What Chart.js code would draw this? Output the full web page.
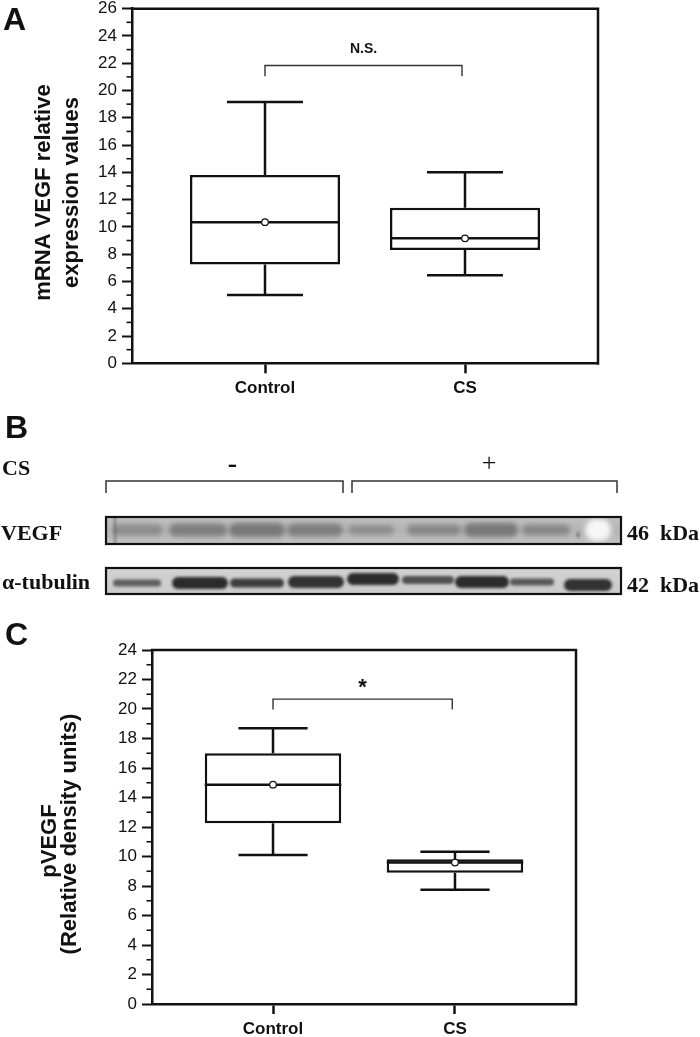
<!DOCTYPE html>
<html><head><meta charset="utf-8">
<script src="https://cdn.jsdelivr.net/npm/chart.js@4.4.1/dist/chart.umd.min.js"></script>
<style>
html,body{margin:0;padding:0;background:#fff;width:700px;height:1037px;overflow:hidden}
canvas{position:absolute;left:0}
#cA{top:0}
#cB{top:405px}
#cC{top:605px}
</style></head><body>
<canvas id="cA" width="700" height="405"></canvas>
<canvas id="cB" width="700" height="200"></canvas>
<canvas id="cC" width="700" height="432"></canvas>
<script>
// ---------- data ----------
const categories = ['Control', 'CS'];

// Panel A: mRNA VEGF relative expression values
const mrnaMin    = [5.0, 6.45];
const mrnaQ1     = [7.25, 8.3];
const mrnaMedian = [10.35, 9.16];
const mrnaQ3     = [13.8, 11.4];
const mrnaMax    = [19.15, 14.0];
const mrnaMean   = [10.35, 9.16];
const mrnaTicks  = [0, 2, 4, 6, 8, 10, 12, 14, 16, 18, 20, 22, 24, 26];
const mrnaBracketX = [1, 1.985];
const mrnaBracketY = [21.05, 21.83];
const mrnaSig = 'N.S.';

// Panel C: pVEGF relative density units
const pvegfMin    = [10.1, 7.75];
const pvegfQ1     = [12.25, 8.9];
const pvegfMedian = [14.87, 9.59];
const pvegfQ3     = [17.0, 9.82];
const pvegfMax    = [18.7, 10.33];
const pvegfMean   = [14.87, 9.59];
const pvegfTicks  = [0, 2, 4, 6, 8, 10, 12, 14, 16, 18, 20, 22, 24];
const pvegfBracketX = [1, 1.985];
const pvegfBracketY = [19.97, 20.67];
const pvegfSig = '*';

// ---------- style ----------
const SANS = '"Liberation Sans", Arial, sans-serif';
const SERIF = '"Liberation Serif", "Times New Roman", serif';
const INK = '#111';
Chart.defaults.font.family = SANS;
Chart.defaults.color = INK;

const decorPlugin = {
  id: 'decor',
  afterDraw(chart, args, o) {
    const {ctx, chartArea: a, scales: {x, y}} = chart;
    ctx.save();
    // top & right frame
    ctx.strokeStyle = INK; ctx.lineWidth = 2.5; ctx.lineCap = 'square';
    ctx.beginPath(); ctx.moveTo(a.left, a.top); ctx.lineTo(a.right, a.top); ctx.lineTo(a.right, a.bottom); ctx.stroke();
    // minor ticks
    ctx.lineWidth = 1.6; ctx.lineCap = 'butt';
    for (let v = y.min + 1; v < y.max; v += 2) {
      const py = y.getPixelForValue(v);
      ctx.beginPath(); ctx.moveTo(a.left - 5.5, py); ctx.lineTo(a.left, py); ctx.stroke();
    }
    // significance label
    const sx = (x.getPixelForValue(o.bx[0]) + x.getPixelForValue(o.bx[1])) / 2;
    const sy = y.getPixelForValue(o.by[1]) - o.sigGap;
    ctx.fillStyle = INK;
    ctx.font = o.sigFont;
    ctx.textAlign = 'center';
    const m = ctx.measureText(o.sig);
    const base = sy + (m.actualBoundingBoxAscent - m.actualBoundingBoxDescent) / 2;
    ctx.fillText(o.sig, sx, base);
    // y title
    ctx.font = 'bold 22px ' + SANS;
    o.title.forEach((t, i) => {
      ctx.save();
      ctx.translate(o.titleX[i], o.titleY[i]);
      ctx.rotate(-Math.PI / 2);
      ctx.textAlign = 'center'; ctx.textBaseline = 'alphabetic';
      ctx.fillText(t, 0, 0);
      ctx.restore();
    });
    // panel letter
    ctx.font = 'bold 32px ' + SANS; ctx.textAlign = 'left';
    ctx.fillText(o.letter, o.letterX, o.letterY);
    ctx.restore();
  }
};

function makeBox(id, d, o) {
  const xs = categories.map((_, i) => i + 1);
  const BOX_HALF = 0.375, CAP_HALF = 0.19;
  const whisk = [], caps = [], meds = [];
  xs.forEach((x, i) => {
    whisk.push({x, y: d.q3[i]}, {x, y: d.max[i]}, {x, y: null}, {x, y: d.q1[i]}, {x, y: d.min[i]}, {x, y: null});
    caps.push({x: x - CAP_HALF, y: d.max[i]}, {x: x + CAP_HALF, y: d.max[i]}, {x, y: null},
              {x: x - CAP_HALF, y: d.min[i]}, {x: x + CAP_HALF, y: d.min[i]}, {x, y: null});
    meds.push({x: x - BOX_HALF, y: d.median[i]}, {x: x + BOX_HALF, y: d.median[i]}, {x, y: null});
  });
  const bracket = [{x: d.bx[0], y: d.by[0]}, {x: d.bx[0], y: d.by[1]}, {x: d.bx[1], y: d.by[1]}, {x: d.bx[1], y: d.by[0]}];
  const lineDs = (data, w, color, order) => ({type: 'line', data, borderColor: color, borderWidth: w, pointRadius: 0,
    spanGaps: false, tension: 0, fill: false, order, borderCapStyle: 'butt'});
  const datasets = [
    {type: 'bar', data: xs.map((x, i) => ({x, y: [d.q1[i], d.q3[i]]})), backgroundColor: '#fff', borderColor: INK,
      borderWidth: 2.5, borderSkipped: false, barPercentage: 0.75, categoryPercentage: 1, order: 5},
    lineDs(whisk, 2.5, INK, 4),
    lineDs(caps, 2.5, INK, 4),
    lineDs(meds, 2.5, INK, 3),
    lineDs(bracket, 1.4, '#333', 3),
    {type: 'line', data: xs.map((x, i) => ({x, y: d.mean[i]})), showLine: false, pointRadius: 3.3,
      pointBackgroundColor: '#fff', pointBorderColor: INK, pointBorderWidth: 1.2, order: 1}
  ];
  return new Chart(document.getElementById(id), {
    type: 'bar',
    data: {datasets},
    plugins: [decorPlugin],
    options: {
      responsive: false, animation: false, devicePixelRatio: 1,
      layout: {autoPadding: false, padding: {top: o.padTop, right: o.padRight, left: 0, bottom: 0}},
      plugins: {legend: {display: false}, tooltip: {enabled: false},
        decor: {bx: d.bx, by: d.by, sig: d.sig, sigGap: o.sigGap, sigFont: o.sigFont,
          title: o.title, titleX: o.titleX, titleY: o.titleY, letter: o.letter, letterX: o.letterX, letterY: o.letterY}},
      scales: {
        x: {type: 'linear', min: 0.335, max: 2.665, offset: false,
          afterBuildTicks: s => { s.ticks = xs.map(v => ({value: v})); },
          afterFit: s => { s.height = o.xHeight; },
          ticks: {callback: v => categories[v - 1], font: {size: 17, weight: 'bold', lineHeight: 1}, color: INK, padding: 7, maxRotation: 0, autoSkip: false},
          grid: {display: true, offset: false, drawOnChartArea: false, drawTicks: true, tickLength: 10, tickWidth: 2.5, tickColor: INK},
          border: {display: true, width: 2.5, color: INK}},
        y: {type: 'linear', min: d.ticks[0], max: d.ticks[d.ticks.length - 1],
          afterBuildTicks: s => { s.ticks = d.ticks.map(v => ({value: v})); },
          afterFit: s => { s.width = o.yWidth; },
          ticks: {font: {size: 17, lineHeight: 0.4}, color: INK, padding: 5},
          grid: {display: true, drawOnChartArea: false, drawTicks: true, tickLength: 10, tickWidth: 2, tickColor: INK},
          border: {display: true, width: 2.5, color: INK}}
      }
    }
  });
}

makeBox('cA', {min: mrnaMin, q1: mrnaQ1, median: mrnaMedian, q3: mrnaQ3, max: mrnaMax, mean: mrnaMean,
  ticks: mrnaTicks, bx: mrnaBracketX, by: mrnaBracketY, sig: mrnaSig},
  {padTop: 8.7, padRight: 102, xHeight: 41.7, yWidth: 132, sigGap: 18, sigFont: 'bold 14px ' + SANS,
   title: ['mRNA VEGF relative', 'expression values'], titleX: [50, 78], titleY: [192.5, 192.5],
   letter: 'A', letterX: 3, letterY: 30});

makeBox('cC', {min: pvegfMin, q1: pvegfQ1, median: pvegfMedian, q3: pvegfQ3, max: pvegfMax, mean: pvegfMean,
  ticks: pvegfTicks, bx: pvegfBracketX, by: pvegfBracketY, sig: pvegfSig},
  {padTop: 45, padRight: 124, xHeight: 33, yWidth: 152, sigGap: 15.5, sigFont: 'bold 22px ' + SANS,
   title: ['pVEGF', '(Relative density units)'], titleX: [56, 75.5], titleY: [236, 229],
   letter: 'C', letterX: 5, letterY: 40});

// ---------- Panel B: western blot ----------
const laneLabels = ['-', '+'];
const blotRows = ['VEGF', 'α-tubulin'];
const blotSizes = ['46  kDa', '42  kDa'];
const vegfBandDarkness = [0.32, 0.45, 0.5, 0.45, 0.32, 0.38, 0.5, 0.38];
const tubulinBandDarkness = [0.62, 0.9, 0.8, 0.86, 0.9, 0.7, 0.9, 0.66, 0.86];

(function drawBlot() {
  const cv = document.getElementById('cB');
  const ctx = cv.getContext('2d');
  const oy = 405;
  const Y = v => v - oy;
  ctx.fillStyle = INK;
  ctx.font = 'bold 32px ' + SANS; ctx.fillText('B', 5, Y(438));
  ctx.font = 'bold 22px ' + SERIF; ctx.fillText('CS', 2, Y(475));
  // lane group labels
  ctx.textAlign = 'center';
  ctx.font = 'bold 28px ' + SERIF;
  let m = ctx.measureText(laneLabels[0]);
  ctx.fillText(laneLabels[0], 232.5, Y(465.5) + (m.actualBoundingBoxAscent - m.actualBoundingBoxDescent) / 2);
  ctx.font = '26px ' + SERIF;
  m = ctx.measureText(laneLabels[1]);
  ctx.fillText(laneLabels[1], 489, Y(462.5) + (m.actualBoundingBoxAscent - m.actualBoundingBoxDescent) / 2);
  // brackets
  ctx.strokeStyle = '#333'; ctx.lineWidth = 1.5;
  [[106, 343], [352, 617]].forEach(([l, r]) => {
    ctx.beginPath(); ctx.moveTo(l, Y(493)); ctx.lineTo(l, Y(481)); ctx.lineTo(r, Y(481)); ctx.lineTo(r, Y(493)); ctx.stroke();
  });
  // row labels
  ctx.textAlign = 'left'; ctx.font = 'bold 22px ' + SERIF;
  ctx.fillText(blotRows[0], 1, Y(540));
  ctx.fillText(blotRows[1], 2, Y(589));
  ctx.fillText(blotSizes[0], 627, Y(540));
  ctx.fillText(blotSizes[1], 627, Y(592));

  function band(cx, cy, w, h, dark, blur, rgb) {
    ctx.save();
    ctx.filter = 'blur(' + blur + 'px)';
    ctx.fillStyle = 'rgba(' + (rgb || '30,30,30') + ',' + dark + ')';
    ctx.beginPath(); ctx.roundRect(cx - w / 2, cy - h / 2, w, h, h / 2); ctx.fill();
    ctx.restore();
  }
  // VEGF strip
  const L = 105, R = 622;
  ctx.save();
  ctx.beginPath(); ctx.rect(L, Y(516), R - L, 29); ctx.clip();
  let g = ctx.createLinearGradient(0, Y(516), 0, Y(545));
  g.addColorStop(0, '#c2c2c2'); g.addColorStop(0.5, '#b4b4b4'); g.addColorStop(1, '#c4c4c4');
  ctx.fillStyle = g; ctx.fillRect(L, Y(516), R - L, 29);
  const vegfX = [138, 198, 257, 315, 371, 434, 491, 546];
  const vegfW = [50, 58, 56, 56, 46, 54, 54, 48];
  const vegfH = [12, 13, 14, 13, 10, 11, 14, 11];
  vegfX.forEach((cx, i) => band(cx, Y(530), vegfW[i], vegfH[i], vegfBandDarkness[i], 2.5, '60,60,60'));
  band(115, Y(530), 3, 30, 0.35, 0.8, '60,60,60');
  band(598, Y(530), 26, 22, 0.95, 2.5, '250,250,250');
  band(578, Y(535), 4, 6, 0.4, 1, '60,60,60');
  ctx.restore();
  ctx.strokeStyle = INK; ctx.lineWidth = 2.2;
  ctx.strokeRect(L + 1, Y(517), R - L - 2, 27);
  // tubulin strip
  ctx.save();
  ctx.beginPath(); ctx.rect(L, Y(567), R - L, 28); ctx.clip();
  g = ctx.createLinearGradient(0, Y(567), 0, Y(595));
  g.addColorStop(0, '#d2d2d2'); g.addColorStop(1, '#cbcbcb');
  ctx.fillStyle = g; ctx.fillRect(L, Y(567), R - L, 28);
  const tubX = [137, 200, 257, 316, 373, 428, 482, 532, 588];
  const tubW = [48, 56, 54, 56, 52, 52, 54, 44, 48];
  const tubH = [7, 12, 9, 12, 12, 8, 12, 7, 12];
  const tubY = [583, 583, 583, 582, 579, 580, 582, 582, 585];
  tubX.forEach((cx, i) => band(cx, Y(tubY[i]), tubW[i], tubH[i], tubulinBandDarkness[i], 1.8, '25,25,25'));
  ctx.restore();
  ctx.strokeRect(L + 1, Y(568), R - L - 2, 26);
})();
</script>
</body></html>
